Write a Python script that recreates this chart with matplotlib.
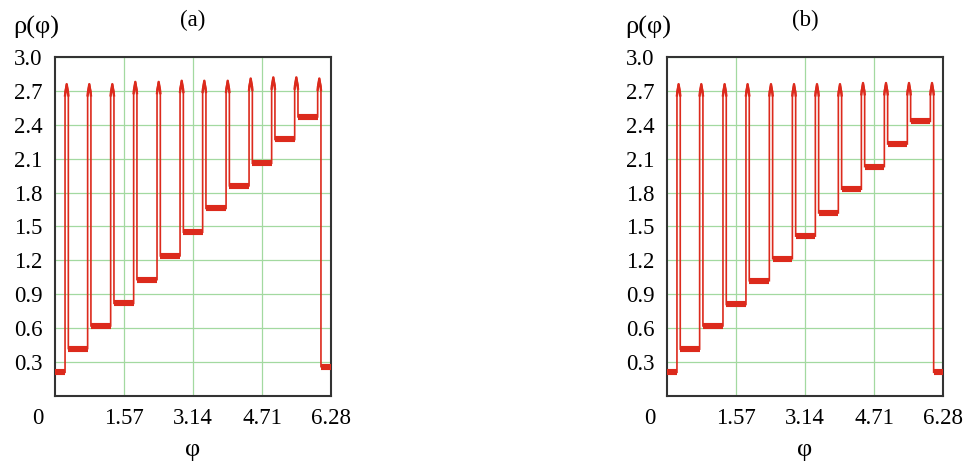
import matplotlib
matplotlib.use('Agg')
import matplotlib.pyplot as plt
from matplotlib.transforms import blended_transform_factory, ScaledTranslation

# ---- data ----
spike_a = [0.266, 0.780, 1.304, 1.827, 2.359, 2.883, 3.397, 3.930, 4.453, 4.967, 5.491, 6.014]
peak_a = [2.76, 2.76, 2.76, 2.78, 2.78, 2.79, 2.79, 2.79, 2.81, 2.82, 2.82, 2.81]
level_a = [0.21, 0.42, 0.62, 0.82, 1.03, 1.24, 1.45, 1.66, 1.86, 2.06, 2.27, 2.47, 0.26]

spike_b = [0.264, 0.780, 1.311, 1.834, 2.366, 2.890, 3.413, 3.936, 4.460, 4.983, 5.506, 6.030]
peak_b = [2.76, 2.76, 2.76, 2.76, 2.76, 2.76, 2.76, 2.76, 2.77, 2.77, 2.77, 2.77]
level_b = [0.21, 0.415, 0.62, 0.81, 1.02, 1.215, 1.415, 1.62, 1.83, 2.03, 2.23, 2.43, 0.21]

xticks = [1.57, 3.14, 4.71, 6.28]
xticklabels = ['1.57', '3.14', '4.71', '6.28']
yticks = [0.3, 0.6, 0.9, 1.2, 1.5, 1.8, 2.1, 2.4, 2.7, 3.0]
yticklabels = ['0.3', '0.6', '0.9', '1.2', '1.5', '1.8', '2.1', '2.4', '2.7', '3.0']
titles = ['(a)', '(b)']
XMAX = 6.28
WIDTH = 0.075  # pulse width

RED = '#dc2a1c'
GRID = '#a3d9a0'
FS = 16.5
FS_GREEK = 19

plt.rcParams['font.family'] = ['Liberation Serif', 'DejaVu Serif']

W, H = 970, 466
fig = plt.figure(figsize=(W / 100, H / 100), dpi=100)


def px_ax(left, top, right, bottom):
    return fig.add_axes([left / W, 1 - bottom / H, (right - left) / W, (bottom - top) / H])


def draw(ax, spikes, peaks, levels):
    xs = [0.0]
    ys = [levels[0]]
    for i, c in enumerate(spikes):
        xl, xr = c - WIDTH / 2, c + WIDTH / 2
        pk = peaks[i]
        xs += [xl, xl, c, xr, xr]
        ys += [levels[i], pk - 0.07, pk, pk - 0.07, levels[i + 1]]
    xs.append(XMAX)
    ys.append(levels[-1])
    ax.plot(xs, ys, color=RED, lw=1.2, solid_joinstyle='miter', zorder=3)
    # plateaus (noisy band drawn as thick segments)
    starts = [0.0] + [c + WIDTH / 2 for c in spikes]
    ends = [c - WIDTH / 2 for c in spikes] + [XMAX]
    for s, e, lv in zip(starts, ends, levels):
        ax.plot([s, e], [lv, lv], color=RED, lw=4.4, solid_capstyle='butt', zorder=3)
    # cap thickening
    for c, pk in zip(spikes, peaks):
        ax.plot([c - WIDTH / 2, c, c + WIDTH / 2], [pk - 0.1, pk, pk - 0.1], color=RED, lw=1.7, zorder=3)


axes_px = [(55, 57, 331, 396), (667, 57, 943, 396)]
datasets = [(spike_a, peak_a, level_a), (spike_b, peak_b, level_b)]

for k, (box, data) in enumerate(zip(axes_px, datasets)):
    ax = px_ax(*box)
    draw(ax, *data)
    ax.set_xlim(0, XMAX)
    ax.set_ylim(0, 3.0)
    ax.set_xticks(xticks)
    ax.set_xticklabels(xticklabels)
    ax.set_yticks(yticks)
    ax.set_yticklabels(yticklabels)
    ax.tick_params(length=0, labelsize=FS, pad=9)
    ax.grid(True, color=GRID, lw=0.9)
    ax.set_axisbelow(True)
    for sp in ax.spines.values():
        sp.set_color('#333333')
        sp.set_linewidth(1.5)
    # origin label "0" offset left of the axis corner
    tr = (blended_transform_factory(ax.transData, ax.transAxes)
          + ScaledTranslation(-17 / 100, -9 / 72, fig.dpi_scale_trans))
    ax.text(0, 0, '0', transform=tr, ha='center', va='top', fontsize=FS)
    cx = (box[0] + box[2]) / 2
    fig.text(cx / W, 1 - 20 / H, titles[k], ha='center', va='center', fontsize=FS)
    fig.text(cx / W, 1 - 450 / H, 'φ', ha='center', va='center', fontsize=FS_GREEK)
    fig.text((box[0] - 19) / W, 1 - 27 / H, 'ρ(φ)', ha='center', va='center', fontsize=FS_GREEK)

fig.savefig('out.png', dpi=100)
